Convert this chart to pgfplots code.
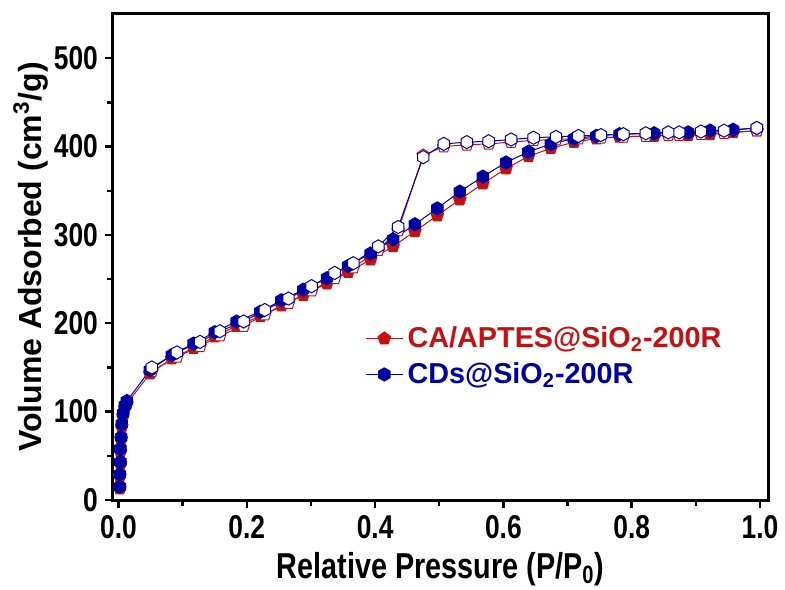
\documentclass[border=0pt]{standalone}
\usepackage{fontspec}
\setmainfont{Liberation Sans}
\newfontfamily\narrowfont{Liberation Sans}[FakeStretch=0.8]
\usepackage{pgfplots}
\pgfplotsset{compat=1.18}
\usetikzlibrary{plotmarks}
\definecolor{myred}{RGB}{196,18,18}
\definecolor{myblue}{RGB}{0,0,160}
\pgfdeclareplotmark{hexagon*}{%
  \pgfpathmoveto{\pgfqpointpolar{90}{\pgfplotmarksize}}%
  \pgfpathlineto{\pgfqpointpolar{150}{\pgfplotmarksize}}%
  \pgfpathlineto{\pgfqpointpolar{210}{\pgfplotmarksize}}%
  \pgfpathlineto{\pgfqpointpolar{270}{\pgfplotmarksize}}%
  \pgfpathlineto{\pgfqpointpolar{330}{\pgfplotmarksize}}%
  \pgfpathlineto{\pgfqpointpolar{30}{\pgfplotmarksize}}%
  \pgfpathclose
  \pgfusepathqfillstroke}
\begin{document}
\begin{tikzpicture}
\useasboundingbox (-56.5pt,-44.5pt) rectangle (336pt,250pt);
\begin{axis}[
  at={(0,0)}, anchor=south west,
  width=327.5pt, height=243pt, scale only axis,
  xmin=-0.0086, xmax=1.0125, ymin=0, ymax=550,
  xtick={0,0.2,0.4,0.6,0.8,1.0}, minor x tick num=1,
  ytick={0,100,200,300,400,500}, minor y tick num=1,
  xtick pos=bottom, ytick pos=left, tick align=outside,
  major tick length=4pt, minor tick length=2.8pt,
  tick style={line width=1.2pt, black},
  axis line style={line width=1.5pt},
  /pgf/number format/assume math mode=true,
  xticklabel style={/pgf/number format/fixed, /pgf/number format/fixed zerofill, /pgf/number format/precision=1, font=\narrowfont\bfseries\fontsize{16.5}{16.5}\selectfont},
  yticklabel style={font=\narrowfont\bfseries\fontsize{16.5}{16.5}\selectfont},
  xlabel={Relative Pressure (P/P\textsubscript{0})},
  ylabel={Volume Adsorbed (cm\textsuperscript{3}/g)},
  xlabel style={font=\narrowfont\bfseries\fontsize{18}{18}\selectfont},
  ylabel style={font=\bfseries\fontsize{16}{16}\selectfont},
  ylabel shift=-4pt,
  legend style={draw=none, fill=none, at={(0.375,0.374)}, anchor=north west, font=\bfseries\fontsize{14.4}{16}\selectfont, row sep=2pt},
  legend image code/.code={\draw[mark repeat=2,mark phase=2] plot coordinates {(0cm,0cm)(0.33cm,0cm)(0.66cm,0cm)};},
  legend cell align=left,
]
\addplot[myred, line width=0.5pt, mark=pentagon*, mark size=3.3pt, mark options={fill=myred, draw=myred}] coordinates {
(0.002,13) (0.002,27) (0.003,41) (0.003,55) (0.004,69) (0.005,83) (0.007,95) (0.010,104) (0.013,109)
(0.049,143) (0.083,160) (0.117,172) (0.150,185) (0.184,197) (0.221,208) (0.254,220) (0.288,232)
(0.325,245) (0.358,258) (0.393,272) (0.428,287) (0.462,304) (0.497,322) (0.532,340) (0.568,358)
(0.604,375) (0.639,389) (0.674,398) (0.710,405) (0.745,409) (0.781,411) (0.835,412) (0.888,413)
(0.922,414) (0.958,416) (0.995,418)
};
\addlegendentry{\textcolor{myred}{CA/APTES@SiO\textsubscript{2}-200R}}
\addplot[myred, line width=0.5pt, mark=pentagon*, mark size=3.3pt, mark options={fill=white, draw=myred}, forget plot] coordinates {
(0.995,418) (0.944,415) (0.908,414) (0.874,413) (0.857,413) (0.822,412) (0.787,411) (0.752,410)
(0.717,409) (0.682,408) (0.647,407) (0.612,405) (0.577,403) (0.543,402) (0.507,400) (0.475,390)
(0.436,305) (0.405,283) (0.366,263) (0.337,251) (0.301,237) (0.265,223) (0.228,210) (0.195,197)
(0.158,186) (0.127,174) (0.091,162) (0.052,146)
};
\addplot[myblue, line width=0.5pt, mark=hexagon*, mark size=3.3pt, mark options={fill=myblue, draw=myblue}] coordinates {
(0.002,15) (0.002,29) (0.003,43) (0.003,58) (0.004,71) (0.005,86) (0.007,98) (0.010,107) (0.013,112)
(0.049,147) (0.083,164) (0.117,177) (0.150,190) (0.184,202) (0.221,213) (0.254,226) (0.288,238)
(0.325,251) (0.358,265) (0.393,279) (0.428,295) (0.462,312) (0.497,330) (0.532,349) (0.568,366)
(0.604,382) (0.639,394) (0.674,403) (0.710,409) (0.745,412) (0.781,414) (0.835,415) (0.888,416)
(0.922,418) (0.958,419) (0.995,421)
};
\addlegendentry{\textcolor{myblue}{CDs@SiO\textsubscript{2}-200R}}
\addplot[myblue, line width=0.5pt, mark=hexagon*, mark size=3.3pt, mark options={fill=white, draw=myblue}, forget plot] coordinates {
(0.995,421) (0.944,418) (0.908,417) (0.874,416) (0.857,416) (0.822,415) (0.787,414) (0.752,413)
(0.717,412) (0.682,411) (0.647,410) (0.612,408) (0.577,406) (0.543,405) (0.507,403) (0.475,388)
(0.436,309) (0.405,287) (0.366,268) (0.337,257) (0.301,242) (0.265,228) (0.228,215) (0.195,202)
(0.158,191) (0.127,179) (0.091,167) (0.052,150)
};
\end{axis}
\end{tikzpicture}
\end{document}
